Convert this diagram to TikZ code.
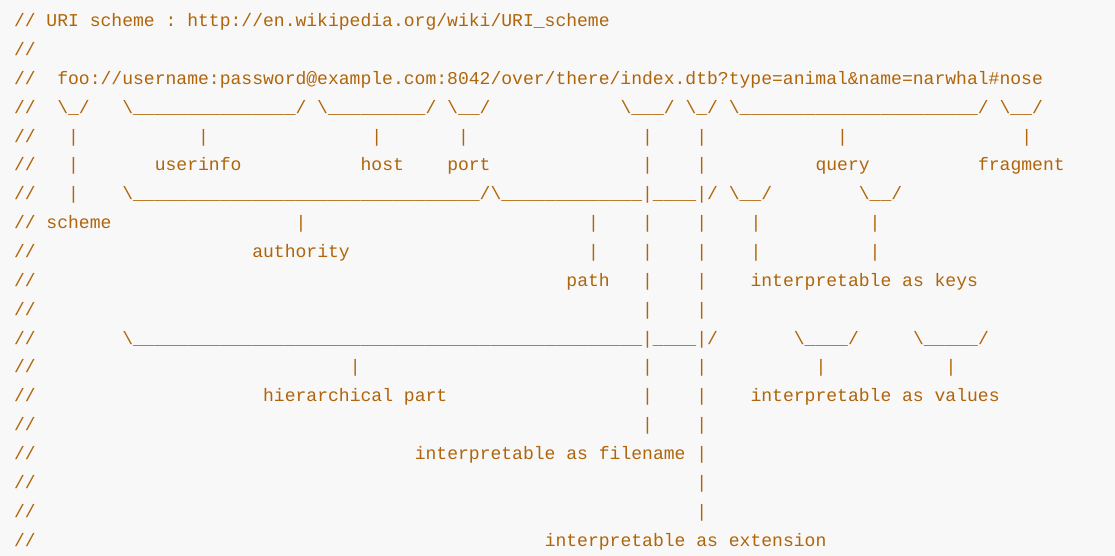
\documentclass[tikz,border=0pt]{standalone}
\usepackage{fontspec}
\newfontfamily\monof{Liberation Mono}
\definecolor{codebrown}{RGB}{176,101,10}
\definecolor{codebg}{RGB}{248,248,248}
\newcommand\bs{\textbackslash}
\newcommand\sps[1]{\kern#1\fontcharwd\font`0\relax}
\ExplSyntaxOn
\NewDocumentCommand\uss{m}{\prg_replicate:nn{#1}{\textunderscore}}
\ExplSyntaxOff
\tikzset{codeline/.style={anchor=base west, inner sep=0pt, outer sep=0pt, text=codebrown,
  font=\monof\fontsize{18.05}{20}\selectfont\frenchspacing}}
\begin{document}
\begin{tikzpicture}[x=1pt,y=-1pt]
\fill[codebg] (0,0) rectangle (1115,556);
\useasboundingbox (0,0) rectangle (1115,556);
\node[codeline] (l1) at (14,26.7) {// URI scheme : http://en.wikipedia.org/wiki/URI\textunderscore scheme};
\node[codeline] (l2) at (14,55.55) {//};
\node[codeline] (l3) at (14,84.4) {//\sps{2}foo://username:password@example.com:8042/over/there/index.dtb?type=animal\&name=narwhal\#nose};
\node[codeline] (l4) at (14,113.25) {//\sps{2}\bs\uss{1}/\sps{3}\bs\uss{15}/ \bs\uss{9}/ \bs\uss{2}/\sps{12}\bs\uss{3}/ \bs\uss{1}/ \bs\uss{22}/ \bs\uss{2}/};
\node[codeline] (l5) at (14,142.1) {//\sps{3}|\sps{11}|\sps{15}|\sps{7}|\sps{16}|\sps{4}|\sps{12}|\sps{16}|};
\node[codeline] (l6) at (14,170.95) {//\sps{3}|\sps{7}userinfo\sps{11}host\sps{4}port\sps{14}|\sps{4}|\sps{10}query\sps{10}fragment};
\node[codeline] (l7) at (14,199.8) {//\sps{3}|\sps{4}\bs\uss{32}/\bs\uss{13}|\uss{4}|/ \bs\uss{2}/\sps{8}\bs\uss{2}/};
\node[codeline] (l8) at (14,228.65) {// scheme\sps{17}|\sps{26}|\sps{4}|\sps{4}|\sps{4}|\sps{10}|};
\node[codeline] (l9) at (14,257.5) {//\sps{20}authority\sps{22}|\sps{4}|\sps{4}|\sps{4}|\sps{10}|};
\node[codeline] (l10) at (14,286.35) {//\sps{49}path\sps{3}|\sps{4}|\sps{4}interpretable as keys};
\node[codeline] (l11) at (14,315.2) {//\sps{56}|\sps{4}|};
\node[codeline] (l12) at (14,344.05) {//\sps{8}\bs\uss{47}|\uss{4}|/\sps{7}\bs\uss{4}/\sps{5}\bs\uss{5}/};
\node[codeline] (l13) at (14,372.9) {//\sps{29}|\sps{26}|\sps{4}|\sps{10}|\sps{11}|};
\node[codeline] (l14) at (14,401.75) {//\sps{21}hierarchical part\sps{18}|\sps{4}|\sps{4}interpretable as values};
\node[codeline] (l15) at (14,430.6) {//\sps{56}|\sps{4}|};
\node[codeline] (l16) at (14,459.45) {//\sps{35}interpretable as filename |};
\node[codeline] (l17) at (14,488.3) {//\sps{61}|};
\node[codeline] (l18) at (14,517.15) {//\sps{61}|};
\node[codeline] (l19) at (14,546) {//\sps{47}interpretable as extension};
\end{tikzpicture}
\end{document}
